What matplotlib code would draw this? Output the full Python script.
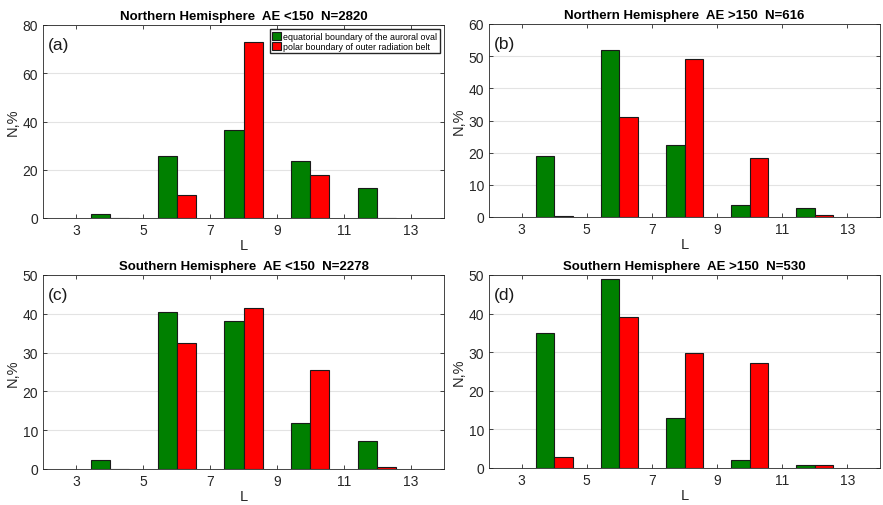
import numpy as np
import matplotlib.pyplot as plt

plt.rcParams['font.family'] = ['Liberation Sans', 'DejaVu Sans']

L = [4, 6, 8, 10, 12]

# equatorial boundary of the auroral oval (green), polar boundary of outer radiation belt (red)
eq_a = [1.8, 25.7, 36.3, 23.8, 12.4]
pol_a = [0.1, 9.4, 72.8, 17.8, 0.2]
eq_b = [19.0, 52.0, 22.3, 3.8, 2.8]
pol_b = [0.4, 31.2, 49.2, 18.4, 0.5]
eq_c = [2.2, 40.4, 38.2, 11.8, 7.3]
pol_c = [0.0, 32.4, 41.5, 25.4, 0.6]
eq_d = [35.1, 48.9, 12.9, 2.2, 0.7]
pol_d = [2.9, 39.2, 29.8, 27.1, 0.9]

titles = ['Northern Hemisphere  AE <150  N=2820',
          'Northern Hemisphere  AE >150  N=616',
          'Southern Hemisphere  AE <150  N=2278',
          'Southern Hemisphere  AE >150  N=530']
letters = ['(a)', '(b)', '(c)', '(d)']
ylims = [80, 60, 50, 50]
yticks = [[0, 20, 40, 60, 80], [0, 10, 20, 30, 40, 50, 60],
          [0, 10, 20, 30, 40, 50], [0, 10, 20, 30, 40, 50]]

data = [(eq_a, pol_a), (eq_b, pol_b), (eq_c, pol_c), (eq_d, pol_d)]

# axes rectangles in pixels (left, top, right, bottom)
W, H = 883, 506
boxes = [(43, 26, 444, 219), (489, 25, 880, 218),
         (43, 276, 444, 470), (489, 276, 880, 469)]

fig = plt.figure(figsize=(8.83, 5.06), dpi=100)
axc = '#262626'
w = 0.57

for i, (x0, y0, x1, y1) in enumerate(boxes):
    ax = fig.add_axes([x0 / W, 1 - y1 / H, (x1 - x0) / W, (y1 - y0) / H])
    eq, pol = data[i]
    x = np.array(L)
    ax.bar(x - w / 2, eq, width=w, color='#008000', edgecolor='#1a1a1a',
           linewidth=0.8, zorder=3,
           label='equatorial boundary of the auroral oval')
    ax.bar(x + w / 2, pol, width=w, color='#ff0000', edgecolor='#1a1a1a',
           linewidth=0.8, zorder=3,
           label='polar boundary of outer radiation belt')
    ax.set_xlim(2, 14)
    ax.set_ylim(0, ylims[i])
    ax.set_xticks([3, 5, 7, 9, 11, 13])
    ax.set_yticks(yticks[i])
    ax.yaxis.grid(True, color='#e3e3e3', linewidth=0.8, zorder=0)
    ax.tick_params(direction='in', top=True, right=True, length=3,
                   labelsize=10, colors=axc, labelcolor=axc, width=0.6)
    for s in ax.spines.values():
        s.set_color(axc)
        s.set_linewidth(0.6)
    ax.set_title(titles[i], fontsize=9.5, fontweight='bold', pad=4)
    ax.set_xlabel('L', fontsize=10.5, color=axc, labelpad=1)
    ax.set_ylabel('N,%', fontsize=10.5, color=axc, labelpad=2)
    ax.text(0.012, 0.9, letters[i], transform=ax.transAxes, fontsize=12.5,
            color='#1a1a1a', va='center', ha='left')
    if i == 0:
        ax.legend(loc='upper right', fontsize=6.4, handlelength=1.0,
                  handleheight=1.0, handletextpad=0.3, borderpad=0.25,
                  labelspacing=0.15, fancybox=False, edgecolor=axc,
                  framealpha=1, borderaxespad=0.5)

fig.savefig('out.png', dpi=100)
